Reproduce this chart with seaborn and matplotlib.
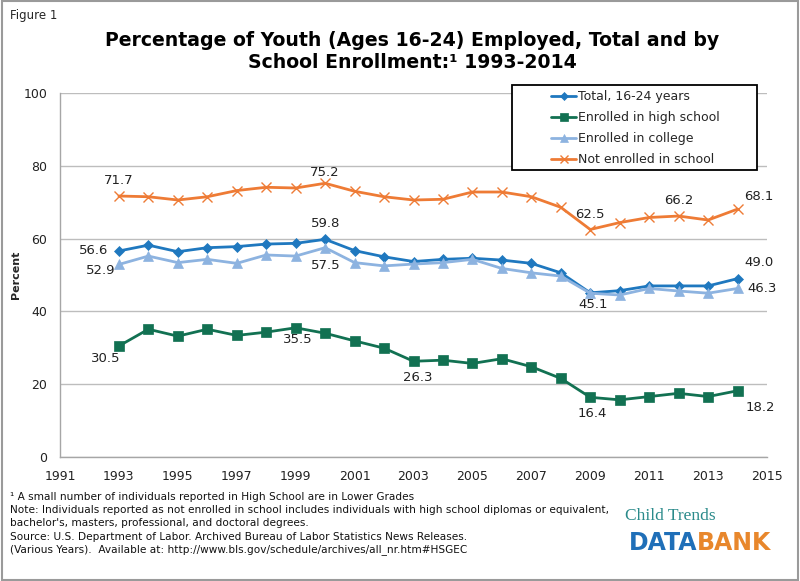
import matplotlib
matplotlib.use("Agg")
import matplotlib.pyplot as plt
import seaborn as sns
import pandas as pd
from matplotlib.patches import Rectangle
from matplotlib.ticker import FixedLocator, MultipleLocator

years = list(range(1993, 2015))
total = [56.6, 58.2, 56.4, 57.5, 57.8, 58.5, 58.7, 59.8, 56.7, 55.0, 53.7, 54.3,
         54.6, 54.1, 53.2, 50.6, 45.1, 45.7, 47.0, 47.0, 47.0, 49.0]
high_school = [30.5, 35.1, 33.2, 35.1, 33.4, 34.3, 35.5, 34.0, 31.9, 29.9, 26.3, 26.6,
               25.7, 27.0, 24.8, 21.6, 16.4, 15.7, 16.6, 17.5, 16.6, 18.2]
college = [52.9, 55.2, 53.4, 54.3, 53.2, 55.5, 55.2, 57.5, 53.4, 52.5, 53.0, 53.4,
           54.3, 51.8, 50.6, 49.7, 45.0, 44.5, 46.3, 45.6, 45.0, 46.3]
not_enrolled = [71.7, 71.5, 70.6, 71.5, 73.2, 74.1, 73.9, 75.2, 73.0, 71.5, 70.6, 70.8,
                72.8, 72.8, 71.5, 68.6, 62.5, 64.4, 65.8, 66.2, 65.1, 68.1]
x_tick_labels = [str(y) for y in range(1991, 2016, 2)]

series_names = ["Total, 16-24 years", "Enrolled in high school",
                "Enrolled in college", "Not enrolled in school"]
series_values = [total, high_school, college, not_enrolled]
colors = ["#1F78BF", "#127152", "#8DB3E0", "#EE7B35"]
markers = ["D", "s", "^", "x"]
msizes = [5, 7, 7, 6.5]

# labelled points: (series index, year, dx px, dy px)
labels = [
    (3, 1993, 0, 16), (3, 2000, 0, 11), (3, 2009, 0, 15), (3, 2012, 0, 16), (3, 2014, 21, 13),
    (0, 1993, -25, 0), (0, 2000, 0, 16), (0, 2014, 21, 16), (0, 2009, 3, -12),
    (2, 1993, -18, -6), (2, 2000, 1, -18), (2, 2014, 25, 0),
    (1, 1993, -13, -13), (1, 1999, 2, -12), (1, 2003, 4, -16), (1, 2009, 2, -16), (1, 2014, 23, -17),
]

sns.set_style("white")
plt.rcParams['font.family'] = ['DejaVu Sans']

fig = plt.figure(figsize=(8.0, 5.81), dpi=100)
ax = fig.add_axes([60/800, 1-457/581, (767-60)/800, (457-93)/581])

df = pd.DataFrame({"year": years})
for name, vals, c, m, ms in zip(series_names, series_values, colors, markers, msizes):
    df[name] = vals
    sns.lineplot(data=df, x="year", y=name, ax=ax, color=c, marker=m, markersize=ms,
                 linewidth=2.0, label=name, markeredgecolor=c,
                 markeredgewidth=1.0 if m == "x" else 0.5)

for si, yr, dx, dy in labels:
    v = series_values[si][years.index(yr)]
    ax.annotate(f"{v:.1f}", (yr, v), xytext=(dx, dy), textcoords="offset pixels",
                ha="center", va="center", fontsize=9.5, color="#222222")

ax.set_xlim(1991, 2015)
ax.set_ylim(0, 100)
ax.xaxis.set_major_locator(FixedLocator([int(t) for t in x_tick_labels]))
ax.set_xticklabels(x_tick_labels)
ax.xaxis.set_minor_locator(MultipleLocator(1))
ax.yaxis.set_major_locator(MultipleLocator(20))
ax.grid(axis="y", color="#BDBDBD", linewidth=1.0)
ax.grid(axis="x", visible=False)
for s in ["top", "right"]:
    ax.spines[s].set_visible(False)
for s in ["left", "bottom"]:
    ax.spines[s].set_color("#A6A6A6")
    ax.spines[s].set_linewidth(1.0)
ax.tick_params(axis="both", which="both", direction="out", color="#A6A6A6",
               labelsize=9, labelcolor="#222222")
ax.tick_params(axis="x", which="major", length=5, pad=4)
ax.tick_params(axis="x", which="minor", length=5)
ax.tick_params(axis="y", length=5, pad=4)
ax.set_xlabel("")
ax.set_ylabel("")

fig.text(16/800, 1-275/581, "Percent", rotation=90, ha="center", va="center",
         fontsize=8, fontweight="bold")

# legend box (drawn as a rectangle) with unframed legend inside
box = Rectangle((512/800, 1-170/581), 245/800, 85/581, transform=fig.transFigure,
                facecolor="white", edgecolor="black", linewidth=1.3, zorder=4, clip_on=False)
ax.add_patch(box)
leg = ax.legend(loc="upper left", bbox_to_anchor=(551/800, 1-90/581),
                bbox_transform=fig.transFigure, frameon=False, fontsize=9,
                handlelength=2.0, handletextpad=0.15, borderpad=0, labelspacing=0.64,
                borderaxespad=0, markerscale=0.8)
leg.set_zorder(6)

fig.text(10/800, 1-16/581, "Figure 1", fontsize=8.5, ha="left", va="center")
fig.text(412/800, 1-40/581, "Percentage of Youth (Ages 16-24) Employed, Total and by",
         fontsize=13.6, fontweight="bold", ha="center", va="center", color="black")
fig.text(412/800, 1-62/581, "School Enrollment:\u00b9 1993-2014",
         fontsize=13.6, fontweight="bold", ha="center", va="center", color="black")

foot = ["\u00b9 A small number of individuals reported in High School are in Lower Grades",
        "Note: Individuals reported as not enrolled in school includes individuals with high school diplomas or equivalent,",
        "bachelor's, masters, professional, and doctoral degrees.",
        "Source: U.S. Department of Labor. Archived Bureau of Labor Statistics News Releases.",
        "(Various Years).  Available at: http://www.bls.gov/schedule/archives/all_nr.htm#HSGEC"]
for i, line in enumerate(foot):
    fig.text(10/800, 1-(497+13.2*i)/581, line, fontsize=7.6, ha="left", va="center",
             color="#111111")

fig.text(625/800, 1-516/581, "Child Trends", fontsize=12.5, color="#2A8A8A",
         family=["Liberation Serif", "DejaVu Serif"], ha="left", va="center")
fig.text(697/800, 1-543/581, "DATA", fontsize=17, color="#1F6FB8", fontweight="bold",
         ha="right", va="center")
fig.text(697/800, 1-543/581, "BANK", fontsize=17, color="#E8872C", fontweight="bold",
         ha="left", va="center")

fig.patches.append(Rectangle((0.002, 0.002), 0.996, 0.996, transform=fig.transFigure,
                             fill=False, edgecolor="#9A9A9A", linewidth=1.5))

fig.savefig("out.png", dpi=100)
